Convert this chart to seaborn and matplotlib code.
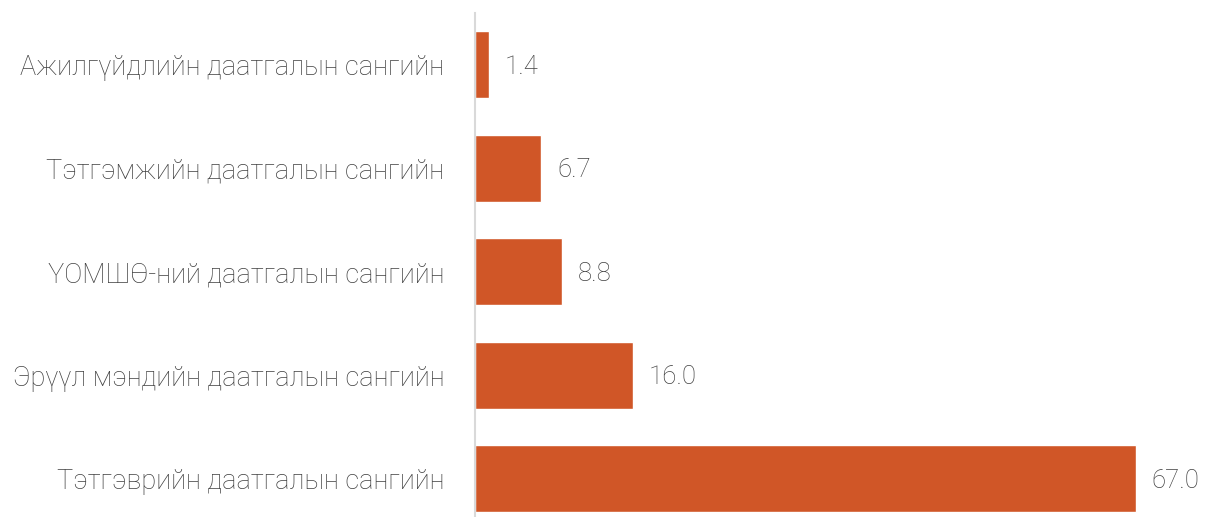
import matplotlib
matplotlib.use("Agg")
import matplotlib.pyplot as plt
import seaborn as sns
import pandas as pd

# Fund names and shares (%)
funds = [
    "Ажилгүйдлийн даатгалын сангийн",
    "Тэтгэмжийн даатгалын сангийн",
    "ҮОМШӨ-ний даатгалын сангийн",
    "Эрүүл мэндийн даатгалын сангийн",
    "Тэтгэврийн даатгалын сангийн",
]
shares = [1.4, 6.7, 8.8, 16.0, 67.0]

data = pd.DataFrame({"fund": funds, "share": shares})

sns.set_style("white")
plt.rcParams['font.family'] = ['Roboto', 'DejaVu Sans']
plt.rcParams['font.weight'] = 'light'

fig = plt.figure(figsize=(12.05, 5.17), dpi=100)
ax = fig.add_axes([475 / 1205, 0, 730 / 1205, 504 / 517])

sns.barplot(x="share", y="fund", data=data, color="#D05627", width=0.645,
            saturation=1, ax=ax, orient="h")

# value labels to the right of each bar
for i, v in enumerate(shares):
    ax.text(v + 1.6, i + 0.02, f"{v:.1f}", va="center", ha="left",
            fontsize=18.5, color="#404040", fontweight="light")

ax.set_xlim(0, 74)
ax.set_ylim(4.37, -0.5)
ax.set_xlabel("")
ax.set_ylabel("")
ax.set_xticks([])
ax.tick_params(axis="y", length=0, pad=22, labelsize=19.5, labelcolor="#404040")
for lab in ax.get_yticklabels():
    lab.set_fontweight("light")

for s in ["top", "right", "bottom"]:
    ax.spines[s].set_visible(False)
ax.spines["left"].set_color("#D9D9D9")
ax.spines["left"].set_linewidth(1.5)

fig.savefig("out.png", dpi=100)
